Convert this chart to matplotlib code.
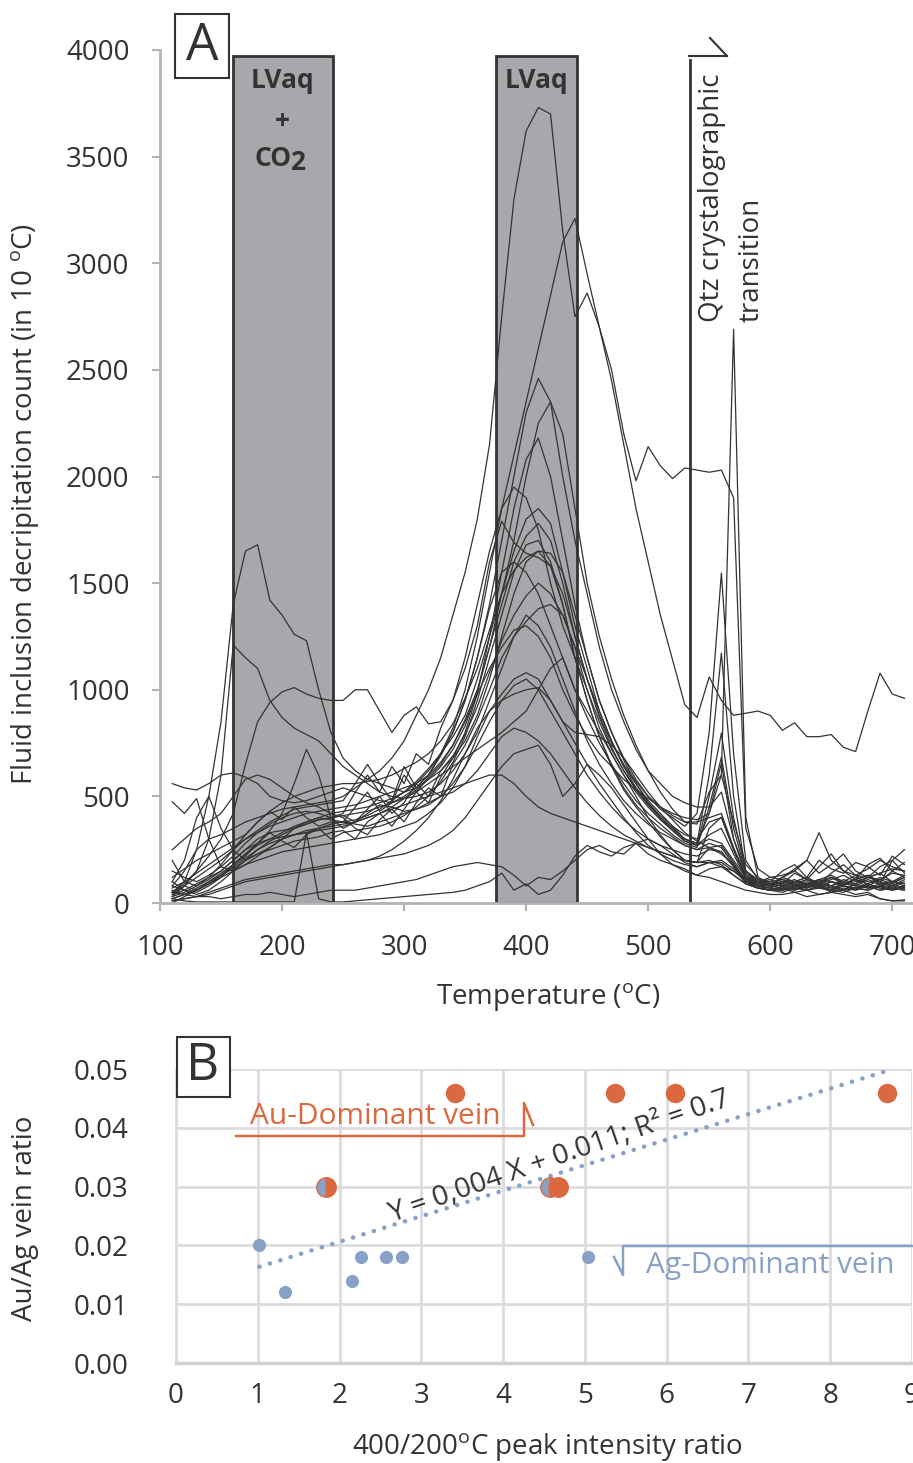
import numpy as np
import matplotlib.pyplot as plt
from matplotlib.patches import Rectangle
from matplotlib.lines import Line2D

plt.rcParams['font.family'] = 'Open Sans'
plt.rcParams['mathtext.fontset'] = 'custom'
plt.rcParams['mathtext.rm'] = 'Open Sans'
plt.rcParams['mathtext.it'] = 'Open Sans:italic'
plt.rcParams['mathtext.bf'] = 'Open Sans:bold'

# ---------------- data: panel A (decrepitation counts per 10 C step) ----------------
temps = list(range(110, 711, 10))

curves = [
    # 3730 peak, 2000 plateau up to the transition
    [80, 150, 250, 300, 320, 350, 380, 400, 420, 440, 450, 460, 470, 480,
     500, 540, 580, 620, 680, 760, 880, 1000, 1150, 1350, 1550, 1800, 2150,
     2750, 3300, 3620, 3730, 3700, 3150, 2750, 2860, 2700, 2500, 2200, 1980, 2140, 2050, 1990, 2040,
     2030, 2020, 2030, 1900, 350, 160, 120, 110, 100, 120, 90, 110, 130, 100, 120, 110, 140, 130],
    # 3210 peak, high tail after 600
    [40, 60, 90, 120, 150, 200, 250, 280, 300, 330, 360, 380, 400, 420,
     430, 440, 450, 470, 490, 520, 560, 620, 700, 820, 1000, 1250, 1550,
     1850, 2100, 2350, 2600, 2850, 3100, 3210, 2950, 2700, 2450, 2150, 1850, 1600, 1350, 1140, 930,
     870, 1060, 950, 880, 890, 900, 880, 810, 845, 780, 780, 790, 730, 710, 900, 1078, 980, 960],
    [30, 50, 80, 110, 150, 200, 250, 300, 330, 340, 350, 370, 390, 400,
     410, 420, 430, 450, 470, 500, 540, 600, 690, 800, 950, 1150, 1400,
     1700, 2000, 2300, 2460, 2350, 2000, 1700, 1450, 1200, 1000, 850, 720, 620, 560, 500, 470,
     450, 450, 520, 300, 150, 110, 100, 90, 110, 80, 100, 120, 90, 110, 130, 100, 150, 120],
    [100, 60, 50, 80, 120, 180, 230, 270, 300, 310, 320, 340, 350, 370,
     380, 450, 520, 430, 470, 600, 520, 590, 650, 740, 860, 1000, 1200,
     1450, 1700, 2000, 2250, 2350, 2200, 1850, 1500, 1250, 1050, 880, 740, 620, 520, 440, 380,
     370, 520, 600, 380, 180, 120, 90, 80, 100, 120, 90, 80, 110, 90, 120, 100, 80, 110],
    [20, 40, 70, 100, 130, 160, 200, 230, 250, 270, 290, 300, 310, 330,
     340, 300, 380, 420, 360, 440, 520, 470, 590, 680, 800, 980, 1250,
     1550, 1850, 2080, 2180, 2000, 1700, 1400, 1150, 950, 800, 680, 580, 500, 450, 410, 380,
     380, 400, 420, 260, 130, 100, 80, 100, 90, 70, 110, 80, 100, 130, 80, 110, 90, 120],
    [150, 120, 100, 130, 170, 220, 280, 330, 370, 400, 420, 430, 420, 400,
     420, 520, 600, 520, 640, 560, 700, 650, 820, 950, 1150, 1400, 1650,
     1850, 1950, 1900, 1750, 1500, 1300, 1150, 1000, 850, 720, 620, 540, 470, 410, 360, 320,
     300, 380, 400, 250, 120, 90, 100, 150, 180, 120, 200, 160, 140, 190, 170, 130, 220, 180],
    [70, 100, 140, 180, 220, 260, 300, 340, 380, 410, 440, 450, 460, 470,
     480, 560, 650, 560, 480, 640, 540, 600, 700, 780, 880, 1050, 1250,
     1450, 1650, 1800, 1850, 1780, 1550, 1300, 1100, 900, 760, 640, 560, 480, 420, 360, 300,
     280, 600, 1172, 500, 150, 100, 90, 120, 100, 90, 110, 130, 100, 90, 120, 140, 100, 130],
    [50, 80, 60, 90, 130, 170, 210, 250, 280, 300, 320, 330, 350, 360,
     370, 380, 400, 420, 450, 490, 530, 580, 640, 720, 830, 990, 1200,
     1400, 1600, 1720, 1780, 1700, 1500, 1250, 1050, 880, 750, 650, 570, 500, 440, 400, 360,
     420, 800, 1547, 700, 200, 110, 90, 120, 160, 200, 140, 180, 230, 150, 120, 170, 200, 140],
    [0, 30, 60, 100, 140, 180, 220, 280, 330, 290, 260, 320, 350, 300,
     330, 340, 350, 360, 380, 410, 450, 500, 570, 660, 780, 950, 1150,
     1350, 1550, 1680, 1700, 1600, 1400, 1150, 950, 780, 640, 530, 450, 380, 310, 250, 200,
     190, 350, 403, 250, 120, 80, 90, 60, 80, 60, 40, 50, 60, 40, 50, 20, 10, 15],
    [200, 100, 80, 120, 180, 250, 320, 380, 430, 470, 500, 520, 540, 550,
     560, 560, 570, 580, 600, 630, 660, 700, 760, 840, 960, 1100, 1280,
     1450, 1560, 1620, 1650, 1640, 1550, 1350, 1150, 950, 800, 670, 560, 470, 400, 340, 290,
     270, 500, 797, 400, 150, 100, 110, 90, 140, 110, 170, 230, 150, 110, 180, 210, 150, 190],
    [120, 160, 200, 230, 260, 290, 320, 380, 430, 390, 450, 400, 360, 380,
     380, 390, 410, 440, 480, 520, 570, 630, 700, 800, 950, 1150, 1380,
     1550, 1600, 1550, 1450, 1300, 1150, 1000, 870, 750, 650, 560, 480, 420, 370, 320, 280,
     260, 450, 684, 350, 140, 100, 90, 80, 100, 90, 110, 100, 80, 120, 100, 90, 200, 250],
    [80, 60, 40, 60, 100, 150, 200, 250, 290, 320, 350, 370, 390, 400,
     410, 380, 440, 500, 420, 470, 560, 500, 620, 690, 790, 920, 1080,
     1230, 1350, 1440, 1500, 1450, 1350, 1200, 1050, 900, 760, 640, 540, 460, 400, 350, 300,
     280, 420, 656, 300, 130, 90, 80, 100, 90, 110, 80, 100, 90, 110, 130, 90, 100, 80],
    # early peak near 380, hump at 210
    [50, 90, 150, 220, 300, 420, 650, 850, 940, 990, 1010, 980, 960, 950,
     950, 1000, 1000, 900, 800, 880, 920, 840, 850, 950, 1100, 1300, 1600,
     1790, 1690, 1640, 1620, 1580, 1450, 1250, 1050, 870, 730, 620, 530, 460, 400, 350, 300,
     270, 300, 280, 200, 120, 100, 90, 110, 80, 90, 100, 120, 90, 110, 90, 120, 100, 90],
    [250, 300, 350, 380, 420, 500, 580, 600, 580, 540, 500, 470, 450, 420,
     400, 350, 320, 390, 440, 380, 470, 540, 500, 650, 740, 860, 1000,
     1150, 1250, 1320, 1380, 1400, 1350, 1200, 1000, 820, 700, 600, 520, 450, 390, 340, 290,
     270, 320, 350, 230, 110, 80, 80, 120, 150, 110, 90, 140, 180, 130, 160, 200, 170, 150],
    # 1680 peak inside the CO2 window
    [50, 100, 250, 500, 850, 1400, 1650, 1680, 1420, 1350, 1260, 1230, 1000, 800,
     680, 620, 580, 560, 540, 520, 540, 580, 620, 680, 760, 880, 1050,
     1250, 1450, 1600, 1650, 1580, 1400, 1150, 950, 780, 650, 540, 460, 400, 350, 310, 270,
     250, 280, 260, 180, 100, 80, 70, 90, 70, 100, 80, 60, 90, 110, 70, 80, 100, 90],
    [30, 80, 150, 300, 600, 1210, 1150, 1100, 950, 870, 820, 790, 760, 700,
     640, 600, 560, 520, 500, 490, 500, 520, 560, 620, 700, 800, 950,
     1100, 1250, 1350, 1300, 1200, 1050, 900, 760, 650, 560, 480, 420, 370, 330, 300, 270,
     250, 260, 240, 170, 90, 70, 60, 80, 60, 90, 70, 100, 80, 60, 90, 70, 80, 100],
    [20, 40, 60, 90, 120, 150, 180, 200, 220, 240, 250, 260, 270, 280,
     290, 300, 310, 320, 340, 360, 380, 420, 470, 540, 640, 780, 900,
     980, 1050, 1080, 1050, 950, 850, 800, 790, 780, 740, 680, 600, 520, 450, 390, 330,
     290, 260, 230, 180, 110, 80, 60, 50, 70, 60, 80, 50, 70, 60, 80, 60, 70, 60],
    [10, 20, 30, 40, 60, 80, 100, 110, 120, 130, 140, 150, 160, 170,
     180, 190, 200, 220, 250, 290, 340, 400, 480, 580, 700, 820, 900,
     950, 980, 1000, 1010, 950, 850, 750, 650, 560, 480, 400, 330, 270, 230, 200, 180,
     170, 190, 200, 160, 100, 70, 60, 70, 50, 60, 70, 60, 50, 70, 60, 80, 60, 70],
    [60, 40, 30, 50, 70, 90, 110, 120, 130, 140, 150, 160, 170, 180,
     180, 190, 200, 210, 220, 230, 250, 270, 300, 340, 400, 480, 560,
     640, 700, 720, 740, 650, 500, 560, 650, 600, 540, 460, 380, 300, 230, 180, 150,
     130, 160, 170, 150, 100, 80, 70, 60, 80, 70, 90, 60, 80, 70, 60, 80, 70, 60],
    [10, 20, 30, 30, 20, 30, 40, 40, 50, 40, 30, 40, 50, 60,
     60, 60, 70, 80, 90, 100, 110, 130, 150, 170, 180, 190, 180,
     170, 130, 80, 120, 110, 150, 200, 250, 270, 240, 230, 280, 300, 270, 230, 190,
     170, 190, 190, 150, 110, 90, 80, 70, 90, 80, 100, 70, 90, 80, 70, 90, 80, 70],
    # sharp spike at the quartz transition
    [40, 80, 120, 160, 200, 250, 300, 330, 360, 380, 400, 420, 430, 440,
     450, 460, 480, 500, 520, 540, 560, 600, 660, 740, 850, 980, 1100,
     1200, 1280, 1300, 1250, 1150, 1000, 880, 780, 700, 640, 580, 530, 490, 450, 420, 400,
     390, 420, 600, 2690, 400, 120, 90, 100, 80, 110, 90, 120, 100, 80, 110, 90, 100, 120],
    [20, 10, 5, 5, 5, 5, 5, 5, 5, 5, 5, 330, 20, 5,
     5, 10, 15, 20, 25, 30, 35, 40, 45, 50, 60, 80, 100,
     140, 60, 90, 40, 60, 130, 220, 270, 240, 220, 260, 280, 230, 200, 180, 160,
     130, 120, 100, 80, 60, 50, 40, 40, 50, 30, 40, 50, 40, 30, 40, 20, 10, 10],
    [100, 200, 400, 500, 350, 250, 200, 230, 260, 300, 350, 380, 400, 390,
     380, 370, 360, 380, 400, 420, 440, 460, 500, 560, 640, 740, 850,
     950, 1020, 1050, 1000, 900, 800, 700, 600, 520, 450, 390, 340, 300, 270, 250, 230,
     220, 250, 240, 170, 110, 100, 120, 130, 150, 200, 330, 200, 150, 130, 120, 140, 160, 150],
    [560, 540, 530, 560, 600, 610, 590, 560, 500, 480, 470, 480, 500, 520,
     540, 520, 500, 480, 470, 490, 520, 560, 600, 640, 680, 720, 760,
     800, 850, 900, 1000, 1100, 1150, 1000, 900, 800, 700, 600, 500, 400, 320, 250, 200,
     190, 260, 270, 190, 100, 80, 70, 60, 80, 70, 90, 80, 60, 90, 70, 80, 90, 70],
    [475, 420, 490, 300, 170, 150, 180, 220, 260, 300, 320, 330, 340, 350,
     360, 380, 400, 420, 440, 460, 480, 500, 520, 540, 560, 580, 600,
     600, 560, 500, 450, 420, 400, 380, 360, 340, 320, 300, 280, 260, 240, 220, 200,
     190, 200, 180, 130, 90, 70, 60, 70, 60, 80, 70, 60, 80, 70, 90, 70, 60, 80],
    [50, 40, 60, 90, 130, 180, 230, 280, 340, 420, 560, 720, 600, 400,
     350, 380, 420, 460, 450, 430, 440, 470, 500, 520, 560, 620, 700,
     780, 820, 800, 760, 700, 620, 540, 470, 410, 360, 320, 290, 260, 240, 220, 200,
     190, 190, 170, 130, 90, 70, 60, 60, 70, 60, 80, 70, 60, 70, 80, 60, 70, 80],
]

co2_window = (160, 242)
lvaq_window = (375, 442)
qtz_transition = 534

# ---------------- data: panel B ----------------
ag_ratio = [1.02, 1.33, 2.15, 2.26, 2.57, 2.76, 5.04]
ag_auag = [0.020, 0.012, 0.014, 0.018, 0.018, 0.018, 0.018]
au_ratio = [3.41, 5.37, 6.10, 8.70]
au_auag = [0.046, 0.046, 0.046, 0.046]
mixed_ratio = [1.83, 4.57, 4.67]
mixed_auag = [0.030, 0.030, 0.030]

W, H = 913, 1463
def fx(px):
    return px / W
def fy(py):
    return 1 - py / H

DARK = '#333333'
AXGRAY = '#b3b3b3'
ORANGE = '#dc6840'
BLUE = '#88a1c6'

fig = plt.figure(figsize=(W / 100, H / 100), dpi=100)

# ---------------- panel A ----------------
axA = fig.add_axes([fx(160), fy(903), (913 - 160) / W, (903 - 50) / H])
for lo, hi in (co2_window, lvaq_window):
    axA.axvspan(lo, hi, ymin=0, ymax=3972 / 4000, facecolor='#a7a8ab',
                edgecolor=DARK, lw=2, zorder=1)
axA.plot([qtz_transition, qtz_transition], [0, 3955], color=DARK, lw=2, zorder=3)
for c in curves:
    axA.plot(temps, c, color=DARK, lw=0.9, zorder=2)

axA.set_xlim(100, 717)
axA.set_ylim(0, 4000)
axA.set_xticks(range(100, 701, 100))
axA.set_yticks(range(0, 4001, 500))
for s in ('top', 'right'):
    axA.spines[s].set_visible(False)
for s in ('left', 'bottom'):
    axA.spines[s].set_color(AXGRAY)
    axA.spines[s].set_linewidth(2)
    axA.spines[s].set_zorder(4)
axA.tick_params(direction='out', length=6, width=1.5, color=AXGRAY,
                labelsize=20, labelcolor=DARK, pad=16)

fig.text(fx(282), fy(80), 'LVaq', ha='center', va='center', fontsize=19,
         fontweight='bold', color=DARK)
fig.text(fx(282), fy(121), '+', ha='center', va='center', fontsize=19,
         fontweight='bold', color=DARK)
fig.text(fx(292), fy(158), 'CO', ha='right', va='center', fontsize=19,
         fontweight='bold', color=DARK)
fig.text(fx(290), fy(163), '2', ha='left', va='center', fontsize=19,
         fontweight='bold', color=DARK)
fig.text(fx(536), fy(80), 'LVaq', ha='center', va='center', fontsize=19,
         fontweight='bold', color=DARK)

fig.text(fx(712), fy(322), 'Qtz crystalographic', rotation=90, rotation_mode='anchor',
         ha='left', va='center', fontsize=20, color=DARK)
fig.text(fx(752), fy(322), 'transition', rotation=90, rotation_mode='anchor',
         ha='left', va='center', fontsize=20, color=DARK)
for xs, ys in (([689, 727], [56, 56]), ([727, 710], [56, 38])):
    fig.add_artist(Line2D([fx(x) for x in xs], [fy(y) for y in ys],
                          color=DARK, lw=1.5))

fig.text(fx(25), fy(504), 'Fluid inclusion decripitation count (in 10 $^{\\mathrm{o}}$C)',
         rotation=90, ha='center', va='center', fontsize=20, color=DARK)
fig.text(fx(548), fy(997), 'Temperature ($^{\\mathrm{o}}$C)', ha='center', va='center',
         fontsize=20, color=DARK)

fig.add_artist(Rectangle((fx(175), fy(78)), (229 - 175) / W, (78 - 14) / H,
                         transform=fig.transFigure, fc='white', ec=DARK, lw=1.5))
fig.text(fx(202), fy(47), 'A', ha='center', va='center', fontsize=37, color=DARK)

# ---------------- panel B ----------------
axB = fig.add_axes([fx(176), fy(1363), (912 - 176) / W, (1363 - 1069) / H])
axB.set_xlim(0, 9)
axB.set_ylim(0, 0.05)
axB.set_xticks(range(0, 10))
axB.set_yticks([0, 0.01, 0.02, 0.03, 0.04, 0.05])
axB.set_yticklabels(['0.00', '0.01', '0.02', '0.03', '0.04', '0.05'])
axB.grid(True, color='#dcdcdc', lw=2)
axB.set_axisbelow(True)
for s in ('top', 'right'):
    axB.spines[s].set_visible(False)
axB.spines['left'].set_color('#dcdcdc')
axB.spines['left'].set_linewidth(2)
axB.spines['bottom'].set_color('#d0d0d0')
axB.spines['bottom'].set_linewidth(2.5)
axB.tick_params(length=0, labelsize=20, labelcolor=DARK)
axB.tick_params(axis='y', pad=34)
axB.tick_params(axis='x', pad=14)

all_x = np.array(ag_ratio + au_ratio + mixed_ratio)
all_y = np.array(ag_auag + au_auag + mixed_auag)
slope, intercept = np.polyfit(all_x, all_y, 1)
xfit = np.array([min(all_x), max(all_x)])
axB.plot(xfit, slope * xfit + intercept, color=BLUE, lw=3.2,
         linestyle=(0, (0.05, 2.4)), dash_capstyle='round', zorder=2)

axB.plot(ag_ratio, ag_auag, 'o', color=BLUE, ms=9.5, mec='none', zorder=3)
axB.plot(au_ratio, au_auag, 'o', color=ORANGE, ms=14, mec='none', zorder=3)
axB.plot(mixed_ratio, mixed_auag, 'o', ms=14, fillstyle='left', markerfacecolor=BLUE,
         markerfacecoloralt=ORANGE, mec=ORANGE, mew=1, zorder=3)

fig.text(fx(559), fy(1157), 'Y = 0,004 X + 0.011; R² = 0.7', rotation=19,
         rotation_mode='anchor', ha='center', va='center', fontsize=20.4, color=DARK)

fig.text(fx(375), fy(1116), 'Au-Dominant vein', ha='center', va='center',
         fontsize=21.5, color=ORANGE)
fig.add_artist(Line2D([fx(236), fx(524), fx(524), fx(533)],
                      [fy(1136), fy(1136), fy(1103), fy(1125)], color=ORANGE, lw=1.8))
fig.text(fx(770), fy(1265), 'Ag-Dominant vein', ha='center', va='center',
         fontsize=21.5, color=BLUE)
fig.add_artist(Line2D([fx(913), fx(623), fx(623), fx(614)],
                      [fy(1246), fy(1246), fy(1275), fy(1257)], color=BLUE, lw=1.8))

fig.text(fx(25), fy(1218), 'Au/Ag vein ratio', rotation=90, ha='center', va='center',
         fontsize=20, color=DARK)
fig.text(fx(548), fy(1447), '400/200$^{\\mathrm{o}}$C peak intensity ratio',
         ha='center', va='center', fontsize=20, color=DARK)

fig.add_artist(Rectangle((fx(177), fy(1097)), (230 - 177) / W, (1097 - 1037) / H,
                         transform=fig.transFigure, fc='white', ec=DARK, lw=1.5))
fig.text(fx(203), fy(1067), 'B', ha='center', va='center', fontsize=37, color=DARK)

fig.savefig('out.png', dpi=100)
